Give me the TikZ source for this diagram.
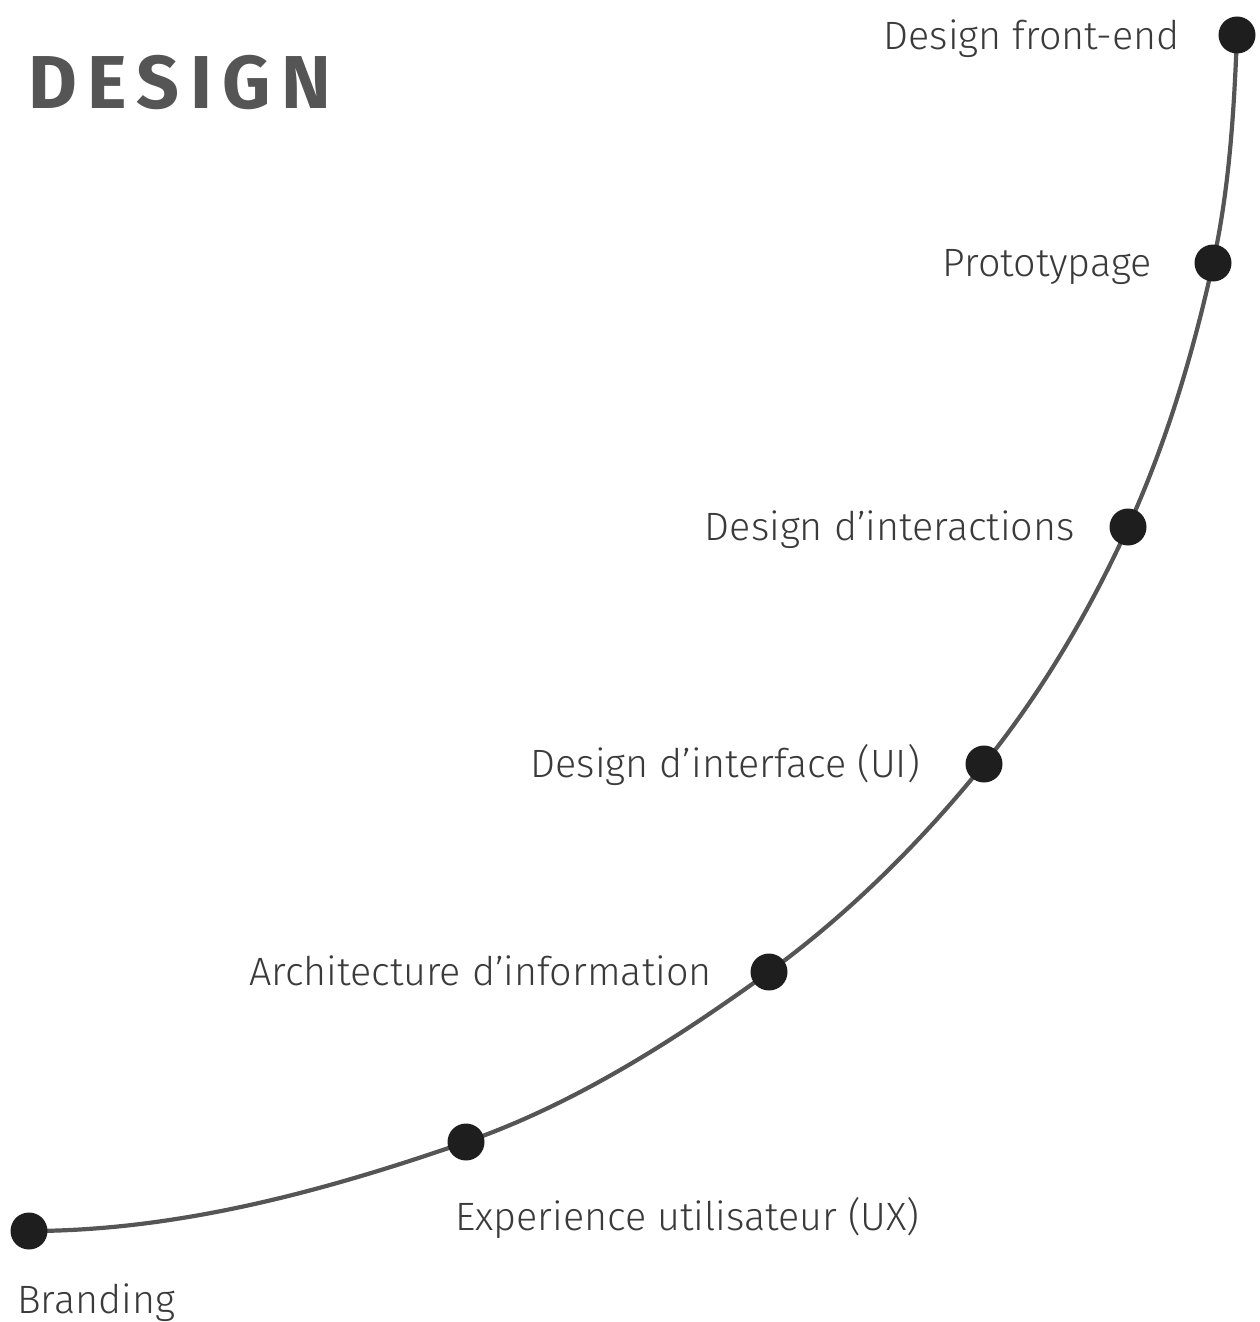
\documentclass[tikz,border=0pt]{standalone}
\usepackage{fontspec}
\setmainfont{Fira Sans}[UprightFont={* Light},BoldFont={* Bold}]
\definecolor{linegray}{HTML}{555555}
\definecolor{dotblack}{HTML}{1E1E1E}
\definecolor{textgray}{HTML}{3A3A3A}
\definecolor{titlegray}{HTML}{555555}
\begin{document}
\begin{tikzpicture}[x=1pt,y=-1pt,
  dot/.style={circle,fill=dotblack,minimum size=37pt,inner sep=0pt},
  lbl/.style={text=textgray,font=\fontsize{39.5}{46}\selectfont,inner sep=0pt},
  curve/.style={draw=linegray,line width=4.2pt}]
\useasboundingbox (0,0) rectangle (1260,1322);
\coordinate (p1) at (1237,35);
\coordinate (p2) at (1213,263);
\coordinate (p3) at (1128,527);
\coordinate (p4) at (984,764);
\coordinate (p5) at (769,972);
\coordinate (p6) at (466,1142);
\coordinate (p7) at (29,1231);
\draw[curve] (p7) .. controls (178,1231) and (325,1191) .. (p6)
  .. controls (575.5,1103.7) and (675,1040) .. (p5)
  .. controls (849.5,913.2) and (921.4,841.6) .. (p4)
  .. controls (1042,692) and (1089.6,611) .. (p3)
  .. controls (1166.4,443) and (1193.1,353.3) .. (p2)
  .. controls (1229.4,188.4) and (1234,111.3) .. (p1);
\node[dot] (d1) at (p1) {};
\node[dot] (d2) at (p2) {};
\node[dot] (d3) at (p3) {};
\node[dot] (d4) at (p4) {};
\node[dot] (d5) at (p5) {};
\node[dot] (d6) at (p6) {};
\node[dot] (d7) at (p7) {};
\node[anchor=base west,text=titlegray,inner sep=0pt,font=\fontsize{75}{80}\bfseries\addfontfeatures{LetterSpace=14}] (title) at (28,108) {DESIGN};
\node[lbl,anchor=base east] (l1) at (1180,50) {Design front-end};
\node[lbl,anchor=base east] (l2) at (1152,276) {Prototypage};
\node[lbl,anchor=base east] (l3) at (1075,540) {Design d’interactions};
\node[lbl,anchor=base east] (l4) at (920,777) {Design d’interface (UI)};
\node[lbl,anchor=base east] (l5) at (712,985) {Architecture d’information};
\node[lbl,anchor=base west] (l6) at (455,1230) {Experience utilisateur (UX)};
\node[lbl,anchor=base west] (l7) at (17,1313) {Branding};
\end{tikzpicture}
\end{document}
